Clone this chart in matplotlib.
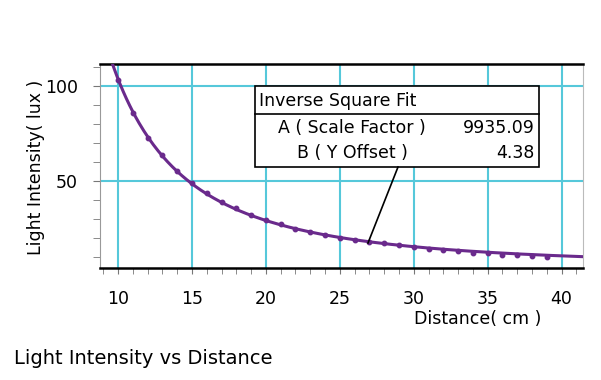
import numpy as np
import matplotlib
matplotlib.use("Agg")
import matplotlib.pyplot as plt
from matplotlib.patches import Rectangle
from matplotlib.lines import Line2D

plt.rcParams['font.family'] = ['DejaVu Sans']

# measured data (cm, lux)
distance = [10, 11, 12, 13, 14, 15, 16, 17, 18, 19, 20, 21, 22, 23, 24,
            25, 26, 27, 28, 29, 30, 31, 32, 33, 34, 35, 36, 37, 38, 39]
intensity = [103.2, 85.8, 72.9, 63.6, 55.3, 48.9, 43.8, 39.0, 35.6, 32.1,
             29.4, 27.3, 24.8, 23.2, 21.5, 20.1, 19.2, 17.8, 17.3, 16.2,
             15.2, 14.4, 13.9, 13.0, 12.2, 11.9, 11.3, 10.8, 10.5, 10.0]

# fit parameters shown in the box
fit_A = 9935.09
fit_B = 4.38
fit_rows = [("A ( Scale Factor )", "9935.09"), ("B ( Y Offset )", "4.38")]

W, H = 601, 380
purple = '#6a2a8c'
cyan = '#55c8da'


def px(x, y):
    return x / W, 1 - y / H


fig = plt.figure(figsize=(W / 100, H / 100), dpi=100)
ax = fig.add_axes([100 / W, 1 - 268 / H, 483 / W, 204 / H])

ax.set_xlim(8.78, 41.45)
ax.set_ylim(4.2, 111.6)

for v in range(10, 41, 5):
    ax.axvline(v, color=cyan, lw=1.5, zorder=1)
for v in (50, 100):
    ax.axhline(v, color=cyan, lw=1.5, zorder=1)

xf = np.linspace(9.5, 41.5, 300)
ax.plot(xf, fit_A / xf ** 2 + fit_B, color=purple, lw=2.2, zorder=3)
ax.plot(distance, intensity, 'o', color=purple, ms=3.2, zorder=4)

ax.set_xticks(range(10, 41, 5))
ax.set_xticks(range(9, 42), minor=True)
ax.set_yticks([50, 100])
ax.set_yticks(range(10, 111, 10), minor=True)
ax.tick_params(which='both', colors='#777777', labelcolor='black', labelsize=12.5)
ax.tick_params(axis='x', which='both', length=4, pad=12)
ax.tick_params(axis='y', which='both', length=5, pad=11)

ax.spines['top'].set_linewidth(1.8)
ax.spines['bottom'].set_linewidth(1.8)
ax.spines['left'].set_color('#999999')
ax.spines['right'].set_color('#bbbbbb')

fig.text(*px(36, 167), "Light Intensity( lux )", rotation=90, fontsize=12.5,
         ha='center', va='center')
fig.text(*px(478, 319), "Distance( cm )", fontsize=12.5, ha='center', va='center')
fig.text(*px(14, 358), "Light Intensity vs Distance", fontsize=14,
         ha='left', va='center')

# fit box
x0, y0 = px(255, 167)
x1, y1 = px(539, 86)
fig.add_artist(Rectangle((x0, y0), x1 - x0, y1 - y0, transform=fig.transFigure,
                         facecolor='white', edgecolor='black', lw=1.2, zorder=5))
fig.add_artist(Line2D([x0, x1], [px(0, 114)[1]] * 2, transform=fig.transFigure,
                      color='black', lw=1.2, zorder=6))
fig.text(*px(259, 101), "Inverse Square Fit", fontsize=12.5, ha='left',
         va='center', zorder=6)
for i, (label, val) in enumerate(fit_rows):
    yy = 128 + i * 25
    fig.text(*px(352, yy), label, fontsize=12.5, ha='center', va='center', zorder=6)
    fig.text(*px(535, yy), val, fontsize=12.5, ha='right', va='center', zorder=6)

fig.add_artist(Line2D([px(398, 0)[0], px(368, 0)[0]],
                      [px(0, 167)[1], px(0, 243)[1]],
                      transform=fig.transFigure, color='black', lw=1.2, zorder=6))

fig.savefig('out.png', dpi=100)
